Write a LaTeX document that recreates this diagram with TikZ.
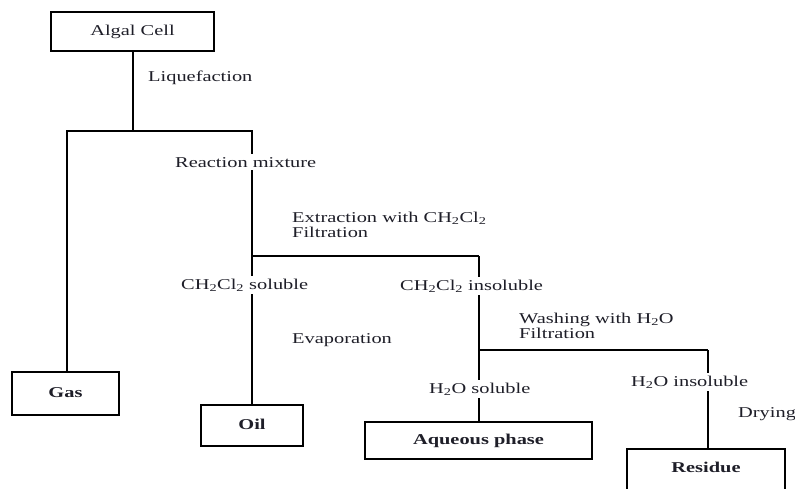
\documentclass[tikz,border=0pt]{standalone}
\usepackage{fontspec}
\setmainfont{Liberation Serif}[FakeStretch=1.36]
\definecolor{txt}{RGB}{30,30,40}
\begin{document}
\begin{tikzpicture}[x=1pt,y=-1pt,
  every node/.style={font=\fontsize{15}{18}\selectfont, text=txt},
  box/.style={draw=black, line width=2pt, inner sep=0pt, text height=10pt, text depth=3pt, font=\fontsize{15}{18}\selectfont\bfseries},
  conn/.style={line width=2pt},
  lbl/.style={anchor=base west, inner xsep=0pt, inner ysep=0pt},
  cut/.style={anchor=base west, inner xsep=0pt, inner ysep=3pt, fill=white}]
\useasboundingbox (0,0) rectangle (795,488);
\clip (0,0) rectangle (795,488);
% boxes
\node[box, font=\fontsize{15}{18}\selectfont, minimum width=163pt, minimum height=39pt] (algal) at (132.5,31.5) {Algal Cell};
\node[box, minimum width=107pt, minimum height=43pt] (gas) at (65.5,393.5) {Gas};
\node[box, minimum width=102pt, minimum height=41pt] (oil) at (252,425.5) {Oil};
\node[box, minimum width=227pt, minimum height=37pt] (aq) at (478.5,440.5) {Aqueous phase};
\node[box, text depth=30pt, minimum width=158pt, minimum height=66pt] (res) at (706,482) {Residue};
% junctions
\coordinate (j1) at (132.5,131);
\coordinate (j1l) at (67,131);
\coordinate (j1r) at (252,131);
\coordinate (j2) at (252,256);
\coordinate (j2r) at (479,256);
\coordinate (j3) at (479,350);
\coordinate (j3r) at (708,350);
% connectors
\draw[conn] (algal.south) -- (j1);
\draw[conn] (j1l |- gas.north) -- (j1l) -- (j1r) -- (j2);
\draw[conn, line width=1.6pt] (j2) -- (j2r);
\draw[conn] (j2) -- (oil.north);
\draw[conn] (j2r) -- (aq.north -| j2r);
\draw[conn, line width=1.6pt] (j3) -- (j3r);
\draw[conn] (j3r) -- (res.north -| j3r);
% labels
\node[lbl] (liq) at (148,81) {Liquefaction};
\node[cut] (rm) at (175,167) {Reaction mixture};
\node[lbl] (ext1) at (292,222) {Extraction with CH\textsubscript{2}Cl\textsubscript{2}};
\node[lbl] (ext2) at (292,237) {Filtration};
\node[cut] (sol) at (181,289) {CH\textsubscript{2}Cl\textsubscript{2} soluble};
\node[lbl] (evap) at (292,343) {Evaporation};
\node[cut] (insol) at (400,290) {CH\textsubscript{2}Cl\textsubscript{2} insoluble};
\node[lbl] (wash1) at (519,323) {Washing with H\textsubscript{2}O};
\node[lbl] (wash2) at (519,338) {Filtration};
\node[cut] (hsol) at (429,393) {H\textsubscript{2}O soluble};
\node[cut] (hinsol) at (631,386) {H\textsubscript{2}O insoluble};
\node[lbl] (dry) at (738,417) {Drying};
\end{tikzpicture}
\end{document}
